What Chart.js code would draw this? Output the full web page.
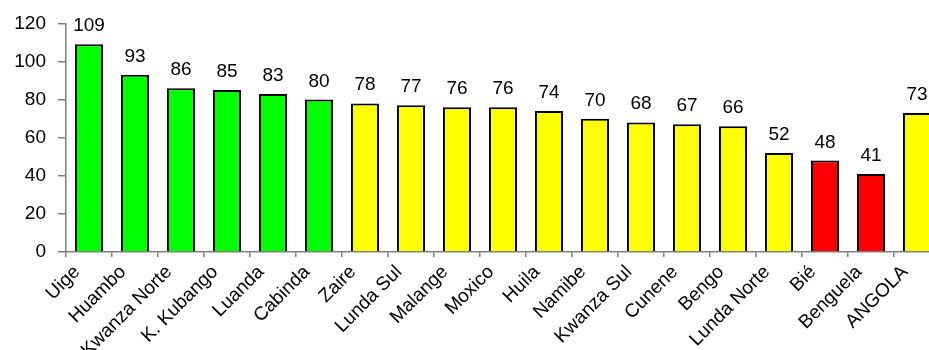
<!DOCTYPE html>
<html>
<head>
<meta charset="utf-8">
<script src="https://cdn.jsdelivr.net/npm/chart.js@4/dist/chart.umd.min.js"></script>
<style>
  html, body { margin: 0; padding: 0; background: #fff; overflow: hidden; }
  #wrap { width: 945px; height: 350px; }
</style>
</head>
<body>
<div id="wrap"><canvas id="cv" width="945" height="350"></canvas></div>
<script>
const provincias = ['Uige', 'Huambo', 'Kwanza Norte', 'K. Kubango', 'Luanda', 'Cabinda', 'Zaire',
  'Lunda Sul', 'Malange', 'Moxico', 'Huila', 'Namibe', 'Kwanza Sul', 'Cunene', 'Bengo',
  'Lunda Norte', 'Bié', 'Benguela', 'ANGOLA'];
const valores = [109, 93, 86, 85, 83, 80, 78, 77, 76, 76, 74, 70, 68, 67, 66, 52, 48, 41, 73];
const grupo = ['v', 'v', 'v', 'v', 'v', 'v', 'a', 'a', 'a', 'a', 'a', 'a', 'a', 'a', 'a', 'a', 'r', 'r', 'a'];
const yTicks = [0, 20, 40, 60, 80, 100, 120];

const cores = { v: '#00FF00', a: '#FFFF00', r: '#FF0000' };
const FONT = 'Liberation Sans, Arial, sans-serif';

// etiquetas encima de cada barra
const etiquetas = {
  id: 'etiquetas',
  afterDatasetsDraw(chart) {
    const ctx = chart.ctx;
    const meta = chart.getDatasetMeta(0);
    ctx.save();
    ctx.font = '19px ' + FONT;
    ctx.fillStyle = '#000';
    ctx.textAlign = 'center';
    ctx.textBaseline = 'alphabetic';
    meta.data.forEach((bar, i) => {
      ctx.fillText(String(valores[i]), bar.x, bar.y - 13);
    });
    ctx.restore();
  }
};

new Chart(document.getElementById('cv'), {
  type: 'bar',
  data: {
    labels: provincias,
    datasets: [{
      data: valores,
      backgroundColor: grupo.map(g => cores[g]),
      borderColor: '#000',
      borderWidth: 2,
      barPercentage: 0.61,
      categoryPercentage: 1
    }]
  },
  options: {
    responsive: false,
    animation: false,
    layout: { padding: { top: 22, right: 5, left: 0, bottom: 0 } },
    plugins: { legend: { display: false }, tooltip: { enabled: false } },
    scales: {
      y: {
        min: 0, max: 120,
        afterBuildTicks: s => { s.ticks = yTicks.map(v => ({ value: v })); },
        afterFit: s => { s.width = 66; },
        border: { display: true, color: '#808080', width: 1.5 },
        grid: { drawOnChartArea: false, tickLength: 8, color: '#808080', lineWidth: 1.5 },
        ticks: { font: { family: FONT, size: 19 }, color: '#000', padding: 12 }
      },
      x: {
        afterFit: s => { s.height = 98; },
        border: { display: true, color: '#808080', width: 1.5 },
        grid: { drawOnChartArea: false, tickLength: 5, color: '#808080', lineWidth: 1.5, offset: true },
        ticks: { font: { family: FONT, size: 19 }, color: '#000', minRotation: 45, maxRotation: 45,
                 autoSkip: false, labelOffset: -12, padding: 4 }
      }
    }
  },
  plugins: [etiquetas]
});
</script>
</body>
</html>
